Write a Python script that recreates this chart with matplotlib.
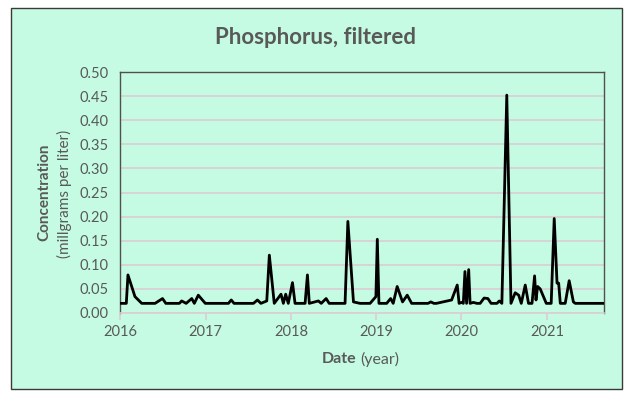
import numpy as np
import pandas as pd
import matplotlib
matplotlib.use('Agg')
import matplotlib.pyplot as plt
import matplotlib.dates as mdates
from matplotlib.patches import Rectangle

# sample dates and filtered phosphorus concentration (mg/L)
dates = ['2016-01-01', '2016-01-28', '2016-02-04', '2016-03-05', '2016-04-03', '2016-05-30',
         '2016-07-01', '2016-07-15', '2016-09-11', '2016-09-21', '2016-10-10', '2016-11-03',
         '2016-11-14', '2016-12-01', '2016-12-31', '2017-04-09', '2017-04-21', '2017-05-03',
         '2017-07-25', '2017-08-11', '2017-08-26', '2017-09-20', '2017-10-01', '2017-10-22',
         '2017-11-20', '2017-11-30', '2017-12-10', '2017-12-21', '2018-01-08', '2018-01-19',
         '2018-03-03', '2018-03-13', '2018-03-21', '2018-04-29', '2018-05-11', '2018-06-01',
         '2018-06-14', '2018-08-21', '2018-09-02', '2018-09-26', '2018-10-24', '2018-12-06',
         '2018-12-31', '2019-01-06', '2019-01-13', '2019-02-15', '2019-03-04', '2019-03-15',
         '2019-04-01', '2019-04-24', '2019-05-14', '2019-06-02', '2019-08-11', '2019-08-23',
         '2019-09-05', '2019-09-16', '2019-11-20', '2019-12-14', '2019-12-22', '2020-01-02',
         '2020-01-09', '2020-01-16', '2020-01-23', '2020-02-01', '2020-02-07', '2020-02-21',
         '2020-03-07', '2020-03-21', '2020-04-07', '2020-04-23', '2020-05-07', '2020-06-01',
         '2020-06-11', '2020-06-22', '2020-07-13', '2020-07-31', '2020-08-18', '2020-09-02',
         '2020-09-13', '2020-09-30', '2020-10-14', '2020-10-29', '2020-11-09', '2020-11-15',
         '2020-11-22', '2020-12-03', '2020-12-17', '2020-12-29', '2021-01-19', '2021-02-01',
         '2021-02-13', '2021-02-20', '2021-02-27', '2021-03-20', '2021-04-06', '2021-04-24',
         '2021-05-02', '2021-08-31']
conc = [0.02, 0.02, 0.079, 0.034, 0.02, 0.02,
        0.030, 0.02, 0.02, 0.025, 0.02, 0.03,
        0.02, 0.037, 0.02, 0.02, 0.027, 0.02,
        0.02, 0.027, 0.02, 0.025, 0.12, 0.02,
        0.039, 0.02, 0.039, 0.02, 0.063, 0.02,
        0.02, 0.079, 0.02, 0.025, 0.02, 0.03,
        0.02, 0.02, 0.19, 0.023, 0.02, 0.02,
        0.034, 0.153, 0.02, 0.02, 0.03, 0.02,
        0.055, 0.023, 0.037, 0.02, 0.02, 0.023,
        0.02, 0.02, 0.027, 0.058, 0.02, 0.022,
        0.02, 0.086, 0.02, 0.09, 0.02, 0.022,
        0.02, 0.02, 0.031, 0.03, 0.02, 0.02,
        0.025, 0.02, 0.452, 0.02, 0.042, 0.037,
        0.02, 0.058, 0.02, 0.02, 0.077, 0.027,
        0.055, 0.05, 0.034, 0.02, 0.02, 0.196,
        0.062, 0.062, 0.02, 0.02, 0.067, 0.023,
        0.02, 0.02]
yticks = [0.0, 0.05, 0.10, 0.15, 0.20, 0.25, 0.30, 0.35, 0.40, 0.45, 0.50]

bg = '#c4fbe2'
grey = '#595959'
plt.rcParams['font.family'] = ['Lato', 'DejaVu Sans']

fig = plt.figure(figsize=(6.31, 3.99), dpi=100)
fig.patch.set_facecolor('white')
fig.patches.append(Rectangle((10.5/631, 1-389.3/399), 611.8/631, 381/399,
                             transform=fig.transFigure, facecolor=bg,
                             edgecolor='#3a3a3a', linewidth=1.0, zorder=-10))

ax = fig.add_axes([120/631, 1-313/399, 484/631, 241/399])
ax.set_facecolor(bg)

x = pd.to_datetime(dates)
ax.plot(x, conc, color='black', linewidth=2.0, zorder=3)

ax.set_ylim(0, 0.5)
ax.set_yticks(yticks)
ax.set_yticklabels([f'{v:.2f}' for v in yticks])
ax.set_xlim(pd.Timestamp('2016-01-01'), pd.Timestamp('2021-09-02'))
ax.xaxis.set_major_locator(mdates.YearLocator())
ax.xaxis.set_major_formatter(mdates.DateFormatter('%Y'))

ax.grid(axis='y', color='#dccdd5', linewidth=1.2)
ax.set_axisbelow(True)
for s in ['top', 'left', 'right']:
    ax.spines[s].set_color('#505050')
    ax.spines[s].set_linewidth(1.0)
ax.spines['bottom'].set_color('#dccdd5')
ax.spines['bottom'].set_linewidth(1.2)
ax.tick_params(axis='y', length=0, pad=8, labelsize=10.5, labelcolor=grey)
ax.tick_params(axis='x', length=5, color='#dccdd5', width=1.2, pad=4,
               labelsize=10.5, labelcolor=grey)

fig.text(0.5, 1-38/399, 'Phosphorus, filtered', ha='center', va='center',
         fontsize=16, fontweight='bold', color=grey)
fig.text(44/631, 1-192/399, 'Concentration', rotation=90, ha='center', va='center',
         fontsize=11, fontweight='bold', color=grey)
fig.text(64/631, 1-194/399, '(millgrams per liter)', rotation=90, ha='center',
         va='center', fontsize=11, color=grey)
fig.text(356/631, 1-359/399, 'Date', ha='right', va='center',
         fontsize=11.5, fontweight='bold', color=grey)
fig.text(360/631, 1-359/399, '(year)', ha='left', va='center',
         fontsize=11.5, color=grey)

fig.savefig('out.png', dpi=100)
